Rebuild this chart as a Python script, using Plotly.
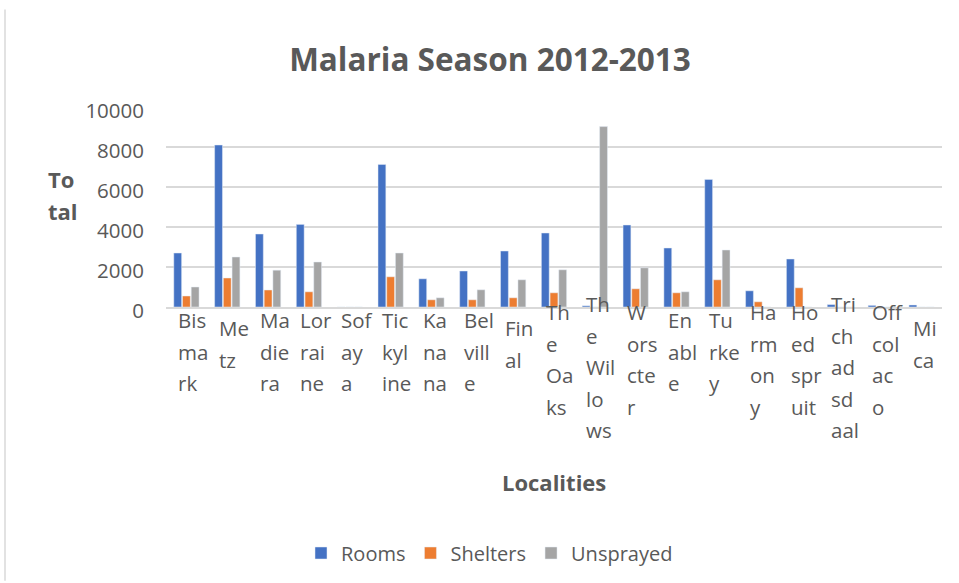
import plotly.graph_objects as go

categories = ["Bismark", "Metz", "Madiera", "Lorraine", "Sofaya", "Tickyline", "Kanana",
              "Belville", "Final", "The Oaks", "The Willows", "Worscter", "Enable", "Turkey",
              "Harmony", "Hoedspruit", "Trichadsdaal", "Offcolaco", "Mica"]
label_lines = [["Bis", "ma", "rk"], ["Me", "tz"], ["Ma", "die", "ra"], ["Lor", "rai", "ne"],
               ["Sof", "ay", "a"], ["Tic", "kyl", "ine"], ["Ka", "na", "na"], ["Bel", "vill", "e"],
               ["Fin", "al"], ["Th", "e", "Oa", "ks"], ["Th", "e", "Wil", "lo", "ws"],
               ["W", "ors", "cte", "r"], ["En", "abl", "e"], ["Tu", "rke", "y"],
               ["Ha", "rm", "on", "y"], ["Ho", "ed", "spr", "uit"], ["Tri", "ch", "ad", "sd", "aal"],
               ["Off", "col", "ac", "o"], ["Mi", "ca"]]
rooms = [2700, 8100, 3650, 4130, 0, 7130, 1410, 1800, 2800, 3700, 60, 4100, 2950, 6380,
         810, 2400, 120, 80, 100]
shelters = [550, 1450, 850, 760, 0, 1510, 360, 360, 460, 710, 0, 910, 710, 1360,
            260, 960, 0, 0, 0]
unsprayed = [1000, 2500, 1840, 2250, 0, 2700, 460, 860, 1360, 1860, 9020, 1960, 760, 2850,
             0, 0, 0, 0, 0]
y_ticks = [0, 2000, 4000, 6000, 8000, 10000]
y_tick_text = ["0", "2000", "4000", "6000", "8000", "10000"]

TXT = "#595959"
FONT = "Open Sans"

fig = go.Figure()
fig.add_trace(go.Bar(name="Rooms", x=categories, y=rooms, marker_color="#4472c4"))
fig.add_trace(go.Bar(name="Shelters", x=categories, y=shelters, marker_color="#ed7d31"))
fig.add_trace(go.Bar(name="Unsprayed", x=categories, y=unsprayed, marker_color="#a5a5a5"))

W, H = 959, 583
L, R, T, B = 166, 17, 107, 275
plot_h = H - T - B

annotations = []
for cat, lines in zip(categories, label_lines):
    n = len(lines)
    first = 37 - 8 * n  # offset (px) of first line centre below the axis
    for i, ln in enumerate(lines):
        annotations.append(dict(
            x=cat, xref="x", y=0, yref="paper", text=ln, showarrow=False,
            xanchor="left", yanchor="middle", xshift=-10.5, yshift=-(first + 31.5 * i),
            font=dict(family=FONT, size=20.5, color=TXT)))

# axis titles
annotations.append(dict(x=0.5, xref="paper", y=0, yref="paper", text="<b>Localities</b>",
                        showarrow=False, xanchor="center", yanchor="middle",
                        yshift=-(483 - 308), font=dict(family=FONT, size=22, color=TXT)))
for i, t in enumerate(["<b>To</b>", "<b>tal</b>"]):
    annotations.append(dict(x=(46 - L) / (W - L - R), xref="paper", y=1, yref="paper", text=t,
                            showarrow=False, xanchor="left", yanchor="middle",
                            yshift=-(179 - T + 32 * i),
                            font=dict(family=FONT, size=22, color=TXT)))

fig.update_layout(
    width=W, height=H,
    margin=dict(l=L, r=R, t=T, b=B),
    paper_bgcolor="white", plot_bgcolor="white",
    barmode="group", bargap=0.36, bargroupgap=0.1,
    title=dict(text="<b>Malaria Season 2012-2013</b>", x=490 / W, xref="container",
               xanchor="center", y=1 - 60 / H, yref="container", yanchor="middle",
               font=dict(family=FONT, size=31.5, color=TXT)),
    font=dict(family=FONT, color=TXT, size=20),
    showlegend=True,
    legend=dict(orientation="h", x=(301 - L) / (W - L - R), xanchor="left",
                y=(308 - 553) / plot_h, yanchor="middle",
                font=dict(family=FONT, size=20, color=TXT), traceorder="normal"),
    annotations=annotations,
    shapes=[dict(type="line", xref="paper", yref="paper",
                 x0=(5 - L) / (W - L - R), x1=(5 - L) / (W - L - R),
                 y0=(308 - 9) / plot_h, y1=(308 - 583) / plot_h,
                 line=dict(color="#d9d9d9", width=1.5))],
)
fig.update_xaxes(showticklabels=False, showgrid=False, showline=True, linecolor="#d9d9d9",
                 linewidth=1.5, ticks="")
fig.update_yaxes(range=[0, 10000], tickvals=y_ticks, ticktext=y_tick_text, showgrid=True,
                 gridcolor="#d9d9d9", gridwidth=1.5, zeroline=False, showline=False, ticks="",
                 ticklabelstandoff=21, ticklabelshift=4,
                 tickfont=dict(family=FONT, size=20.5, color=TXT))

fig.write_html("out.html")
